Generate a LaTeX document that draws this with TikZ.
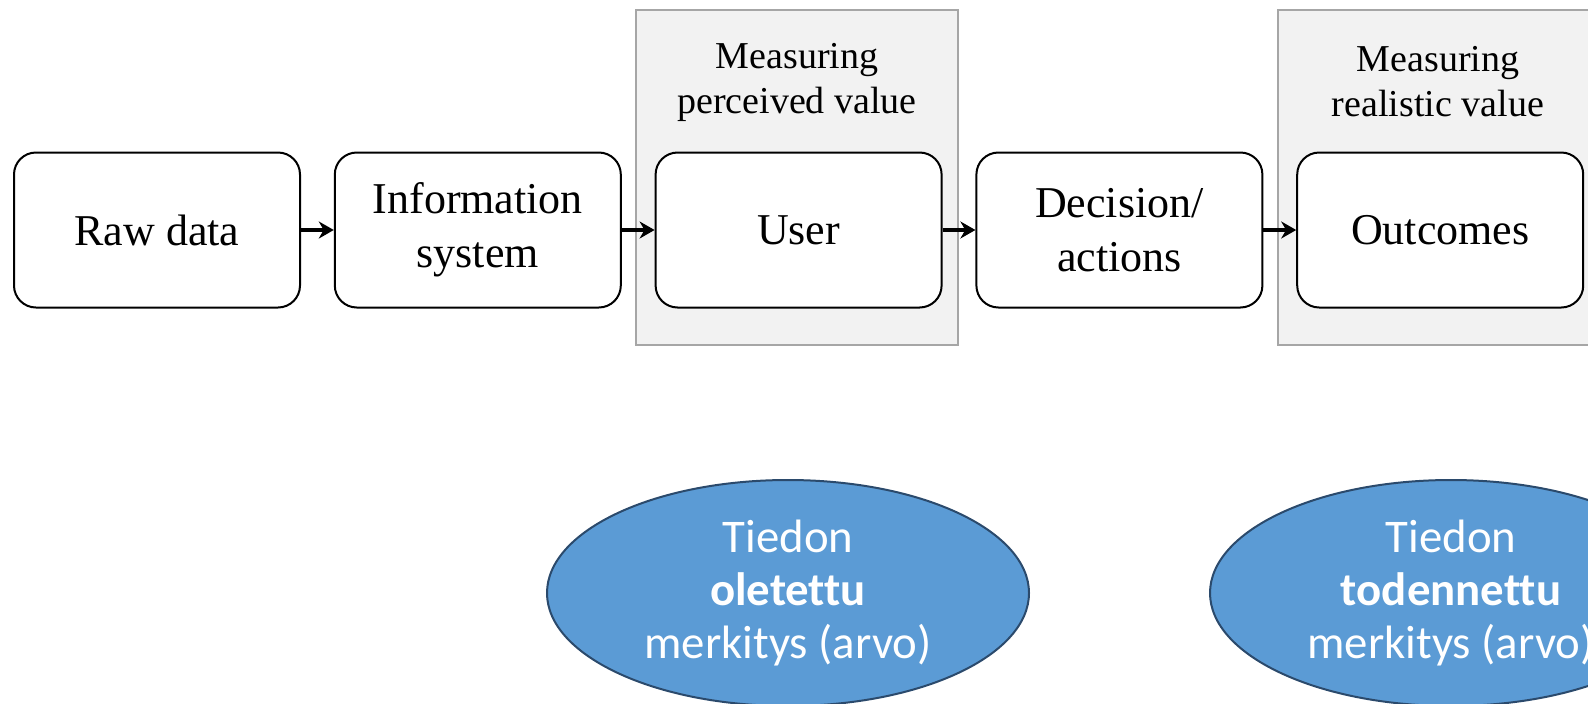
\documentclass[tikz,border=0pt]{standalone}
\usepackage{fontspec}
\setmainfont{Liberation Serif}
\newfontfamily\carlito[Ligatures=NoCommon]{Carlito}
\usetikzlibrary{positioning,arrows.meta,shapes.geometric}
\definecolor{panelgray}{HTML}{F2F2F2}
\definecolor{panelline}{HTML}{A6A6A6}
\definecolor{ovalblue}{HTML}{5B9BD5}
\definecolor{ovalline}{HTML}{2B4A6C}
\begin{document}
\begin{tikzpicture}[x=0.5pt,y=-0.5pt,node distance=16.4pt,
  stage/.style={rectangle,draw,fill=white,line width=1pt,rounded corners=11pt,
    minimum width=143pt,minimum height=77.5pt,align=center,
    font=\fontsize{22}{27}\selectfont},
  panel/.style={fill=panelgray,draw=panelline,line width=0.8pt},
  panellabel/.style={align=center,font=\fontsize{19}{22.5}\selectfont},
  oval/.style={ellipse,fill=ovalblue,draw=ovalline,line width=1pt,inner sep=0pt,
    minimum width=241pt,minimum height=113pt,text=white,align=center,
    font=\carlito\fontsize{23.4}{26.5}\selectfont},
  flow/.style={line width=2pt,-{Stealth[length=7.5pt,width=8.5pt]}}]
  \clip (0,0) rectangle (1588,703);
  % measuring panels
  \draw[panel] (636,10) rectangle (958,345);
  \draw[panel] (1278,10) rectangle (1600,345);
  \node[panellabel] (perceived) at (797,82) {Measuring\\perceived value};
  \node[panellabel] (realistic) at (1438,82) {Measuring\\realistic value};
  % chain
  \node[stage] (raw) at (157,230) {Raw data};
  \node[stage,right=of raw] (infosys) {Information\\system};
  \node[stage,right=of infosys] (user) {User};
  \node[stage,right=of user] (decision) {Decision/\\actions};
  \node[stage,right=of decision] (outcomes) {Outcomes};
  \draw[flow] (raw) -- (infosys);
  \draw[flow] (infosys) -- (user);
  \draw[flow] (user) -- (decision);
  \draw[flow] (decision) -- (outcomes);
  % value ovals
  \node[oval] (assumed) at (788,593) {Tiedon\\\textbf{oletettu}\\merkitys (arvo)};
  \node[oval] (verified) at (1451,593) {Tiedon\\\textbf{todennettu}\\merkitys (arvo)};
\end{tikzpicture}
\end{document}
